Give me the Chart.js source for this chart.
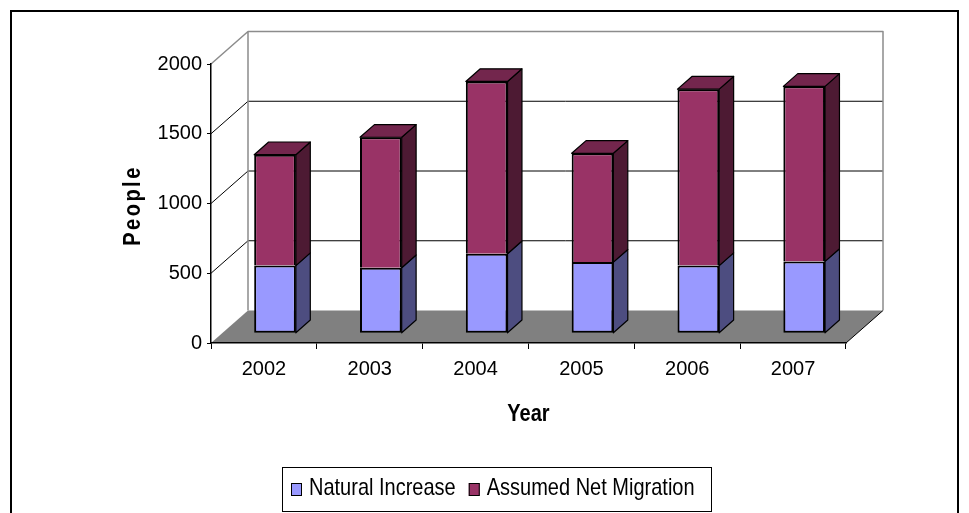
<!DOCTYPE html>
<html>
<head>
<meta charset="utf-8">
<title>Natural Increase and Assumed Net Migration</title>
<script src="https://cdn.jsdelivr.net/npm/chart.js@4.4.1/dist/chart.umd.min.js"></script>
<style>
    html, body { margin: 0; padding: 0; background: #fff; }
    canvas { display: block; }
</style>
</head>
<body>
<canvas id="popChart" width="969" height="513"></canvas>
<script>
// Chart data
const years = ['2002', '2003', '2004', '2005', '2006', '2007'];
const naturalIncrease = [485, 470, 570, 510, 485, 515];
const netMigration = [795, 935, 1235, 780, 1265, 1255];
const yTickValues = [0, 500, 1000, 1500, 2000];

const FONT = '"Liberation Sans", Arial, sans-serif';
const STRETCH = 1.17; // text in the original is drawn a little taller than normal

// 3D look: full depth of the walls, and where the bars sit inside it
const DEPTH = { x: 37, y: -32.5 };
const BAR_SHIFT = 0.3;
const BAR_DEPTH = 0.39;

const frontColors = ['#9999FF', '#993366'];
const sideColors = ['#4D4D80', '#4D1A33'];
const topColors = ['#7373BF', '#73264D'];

function poly(ctx, pts, fill, stroke, width) {
    ctx.beginPath();
    ctx.moveTo(pts[0][0], pts[0][1]);
    for (let i = 1; i < pts.length; i++) ctx.lineTo(pts[i][0], pts[i][1]);
    ctx.closePath();
    if (fill) { ctx.fillStyle = fill; ctx.fill(); }
    if (stroke) { ctx.strokeStyle = stroke; ctx.lineWidth = width || 1; ctx.stroke(); }
}

function line(ctx, x1, y1, x2, y2, color, width) {
    ctx.beginPath();
    ctx.moveTo(x1, y1);
    ctx.lineTo(x2, y2);
    ctx.strokeStyle = color;
    ctx.lineWidth = width || 1;
    ctx.stroke();
}

// stretched text helper
function drawText(ctx, text, x, y, opts) {
    ctx.save();
    ctx.translate(x, y);
    if (opts.rotate) ctx.rotate(opts.rotate);
    ctx.scale(1, STRETCH);
    ctx.font = opts.font;
    ctx.fillStyle = '#000';
    ctx.textAlign = opts.align || 'left';
    ctx.textBaseline = opts.baseline || 'alphabetic';
    if (opts.spacing) ctx.letterSpacing = opts.spacing;
    ctx.fillText(text, 0, 0);
    ctx.restore();
}

// Walls, floor, bar sides, titles and legend
const excel3d = {
    id: 'excel3d',
    beforeDraw(chart) {
        const ctx = chart.ctx;
        const area = chart.chartArea;
        const yScale = chart.scales.y;
        const dx = DEPTH.x, dy = DEPTH.y;
        const L = area.left, R = area.right;
        const B = yScale.getPixelForValue(0);
        const T = yScale.getPixelForValue(2000);

        ctx.save();
        ctx.fillStyle = '#fff';
        ctx.fillRect(0, 0, chart.width, chart.height);

        // outer frame
        ctx.strokeStyle = '#000';
        ctx.lineWidth = 2;
        ctx.strokeRect(11, 11, 947, 530);

        // floor
        poly(ctx, [[L, B], [R, B], [R + dx, B + dy], [L + dx, B + dy]], '#808080');
        line(ctx, R, B, R + dx, B + dy, '#000', 1);

        // gridlines on the back wall and the left wall
        yTickValues.forEach(v => {
            if (v === 0 || v === 2000) return;
            const yf = yScale.getPixelForValue(v);
            line(ctx, L, yf, L + dx, yf + dy, '#000', 1);
            line(ctx, L + dx, yf + dy, R + dx, yf + dy, '#000', 1);
        });

        // wall outline
        ctx.lineJoin = 'round';
        ctx.beginPath();
        ctx.moveTo(L, T);
        ctx.lineTo(L + dx, T + dy);
        ctx.lineTo(R + dx, T + dy);
        ctx.lineTo(R + dx, B + dy);
        ctx.moveTo(L + dx, T + dy);
        ctx.lineTo(L + dx, B + dy);
        ctx.strokeStyle = '#8c8c8c';
        ctx.lineWidth = 1.5;
        ctx.stroke();
        ctx.restore();
    },
    beforeDatasetsDraw(chart) {
        chart.ctx.save();
        chart.ctx.translate(DEPTH.x * BAR_SHIFT, DEPTH.y * BAR_SHIFT);
    },
    afterDatasetsDraw(chart) {
        const ctx = chart.ctx;
        const bx = DEPTH.x * BAR_DEPTH, by = DEPTH.y * BAR_DEPTH;
        const last = chart.data.datasets.length - 1;
        ctx.lineJoin = 'round';
        chart.data.datasets.forEach((ds, di) => {
            const meta = chart.getDatasetMeta(di);
            meta.data.forEach(bar => {
                const p = bar.getProps(['x', 'y', 'base', 'width'], true);
                const l = p.x - p.width / 2, r = p.x + p.width / 2;
                const top = Math.min(p.y, p.base), bot = Math.max(p.y, p.base);
                poly(ctx, [[r, top], [r + bx, top + by], [r + bx, bot + by], [r, bot]], sideColors[di], '#000', 1.2);
                if (di === last) {
                    poly(ctx, [[l, top], [l + bx, top + by], [r + bx, top + by], [r, top]], topColors[di], '#000', 1.2);
                }
            });
        });
        ctx.restore();
    },
    afterDraw(chart) {
        const ctx = chart.ctx;
        const area = chart.chartArea;

        // axis titles
        drawText(ctx, 'Year', (area.left + area.right) / 2, 415, {
            font: 'bold 20px ' + FONT, align: 'center', baseline: 'middle'
        });
        drawText(ctx, 'People', 134, (area.top + area.bottom) / 2 + 2, {
            font: 'bold 20px ' + FONT, align: 'center', baseline: 'middle',
            rotate: -Math.PI / 2, spacing: '2.5px'
        });

        // legend
        ctx.save();
        ctx.strokeStyle = '#000';
        ctx.lineWidth = 1;
        ctx.strokeRect(282.5, 467.5, 429, 44);
        ctx.font = '20px ' + FONT;
        let x = 291;
        chart.data.datasets.forEach((ds, di) => {
            ctx.fillStyle = ds.backgroundColor;
            ctx.fillRect(x, 483, 11, 13);
            ctx.strokeStyle = '#000';
            ctx.strokeRect(x + 0.5, 483.5, 10, 12);
            drawText(ctx, ds.label, x + 18, 495, { font: '20px ' + FONT });
            x += 18 + ctx.measureText(ds.label).width + 13;
        });
        ctx.restore();
    }
};

const ctx = document.getElementById('popChart').getContext('2d');
new Chart(ctx, {
    type: 'bar',
    data: {
        labels: years,
        datasets: [
            {
                label: 'Natural Increase',
                data: naturalIncrease,
                backgroundColor: frontColors[0],
                borderColor: '#000',
                borderWidth: 2,
                borderSkipped: false
            },
            {
                label: 'Assumed Net Migration',
                data: netMigration,
                backgroundColor: frontColors[1],
                borderColor: '#000',
                borderWidth: 2,
                borderSkipped: 'bottom'
            }
        ]
    },
    options: {
        responsive: false,
        animation: false,
        clip: false,
        barPercentage: 0.394,
        categoryPercentage: 1,
        layout: {
            padding: { left: 0, right: 123, top: 64, bottom: 0 }
        },
        plugins: {
            legend: { display: false },
            tooltip: { enabled: false }
        },
        scales: {
            x: {
                stacked: true,
                offset: true,
                grid: { offset: true, drawOnChartArea: false, color: '#000', tickLength: 6 },
                border: { color: '#000', width: 1.5 },
                ticks: { color: '#000', font: { family: FONT, size: 20 }, padding: 8 },
                afterFit(scale) { scale.height = 170; }
            },
            y: {
                stacked: true,
                min: 0,
                max: 2000,
                grid: { drawOnChartArea: false, color: '#000', tickLength: 4 },
                border: { color: '#000', width: 1.5 },
                ticks: {
                    color: '#000',
                    font: { family: FONT, size: 20 },
                    padding: 5,
                    callback: value => String(value)
                },
                afterBuildTicks(scale) {
                    scale.ticks = yTickValues.map(v => ({ value: v }));
                },
                afterFit(scale) { scale.width = 211; }
            }
        }
    },
    plugins: [excel3d]
});
</script>
</body>
</html>
